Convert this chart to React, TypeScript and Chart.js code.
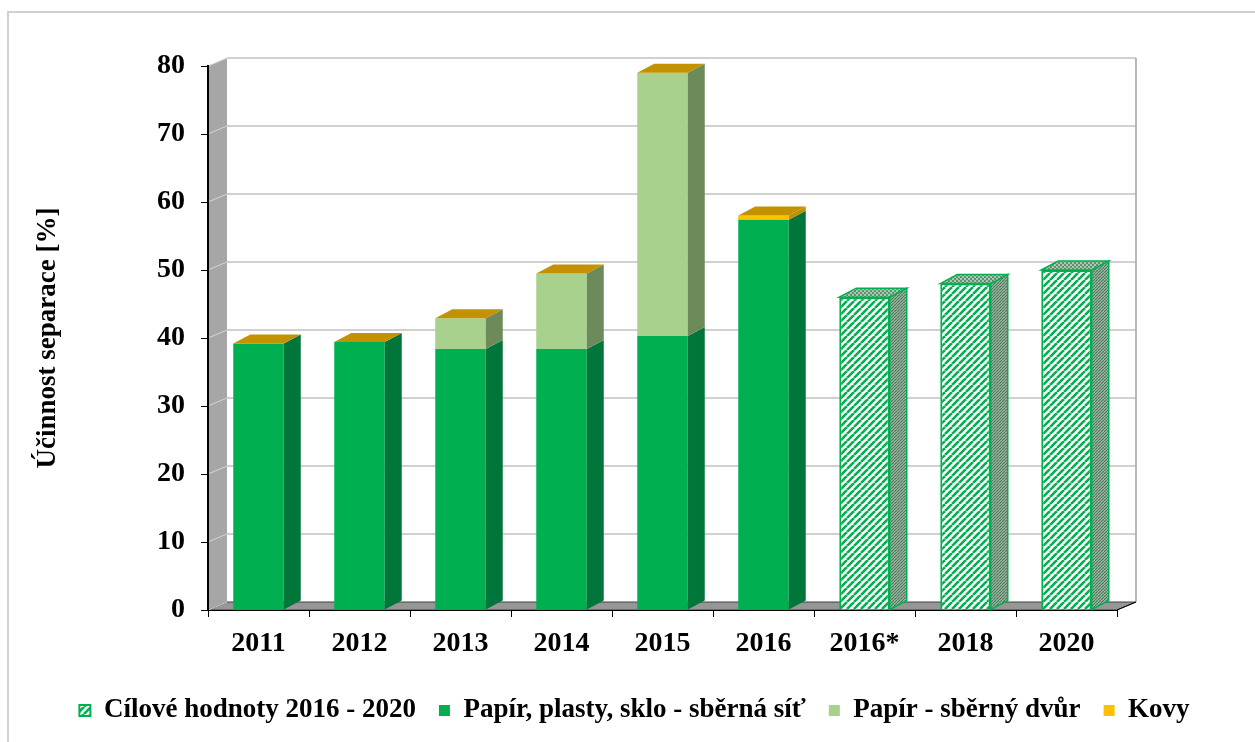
import React, { useEffect, useRef } from 'react';
import { Chart, registerables } from 'chart.js';

Chart.register(...registerables);

// ---- data ----
const categories = ['2011', '2012', '2013', '2014', '2015', '2016', '2016*', '2018', '2020'];
const cilove = [null, null, null, null, null, null, 46, 48, 50];
const sbernaSit = [39.2, 39.4, 38.4, 38.4, 40.3, 57.4, null, null, null];
const sbernyDvur = [0, 0, 4.5, 11.1, 38.7, 0, null, null, null];
const kovy = [0, 0, 0, 0, 0, 0.6, null, null, null];
const seriesNames = ['Cílové hodnoty 2016 - 2020', 'Papír, plasty, sklo - sběrná síť', 'Papír - sběrný dvůr', 'Kovy'];
const yTitle = 'Účinnost separace [%]';
const yMin = 0;
const yMax = 80;
const yStep = 10;

// ---- style ----
const FONT = "'Liberation Serif', 'Times New Roman', serif";
const WALL_DX = 19;
const WALL_DY = -8;
const BAR_DX = 17;
const BAR_DY = -9;
const GREEN = '#00B050';
const PAD_LEFT = 14;
const PLOT_LEFT = 208;
const PLOT_RIGHT = 1117;
const PLOT_BOTTOM = 610;
const PAD_BOTTOM = 8;

function makeCanvas(size: number) {
  const c = document.createElement('canvas');
  c.width = size;
  c.height = size;
  return c;
}

function hatchPattern(ctx: CanvasRenderingContext2D, size: number, bg: string, fg: string, lw: number) {
  const c = makeCanvas(size);
  const g = c.getContext('2d')!;
  g.fillStyle = bg;
  g.fillRect(0, 0, size, size);
  g.strokeStyle = fg;
  g.lineWidth = lw;
  for (const k of [-size, 0, size]) {
    g.beginPath();
    g.moveTo(k, size);
    g.lineTo(k + size, 0);
    g.stroke();
  }
  return ctx.createPattern(c, 'repeat')!;
}

function dotPattern(ctx: CanvasRenderingContext2D, bg: string, fg: string) {
  const c = makeCanvas(4);
  const g = c.getContext('2d')!;
  g.fillStyle = bg;
  g.fillRect(0, 0, 4, 4);
  g.fillStyle = fg;
  g.fillRect(0, 0, 2, 2);
  g.fillRect(2, 2, 2, 2);
  return ctx.createPattern(c, 'repeat')!;
}

function poly(ctx: CanvasRenderingContext2D, pts: number[][]) {
  ctx.beginPath();
  ctx.moveTo(pts[0][0], pts[0][1]);
  for (let i = 1; i < pts.length; i++) ctx.lineTo(pts[i][0], pts[i][1]);
  ctx.closePath();
}

export default function App() {
  const ref = useRef<HTMLCanvasElement>(null);

  useEffect(() => {
    const canvas = ref.current!;
    const ctx = canvas.getContext('2d')!;
    const frontHatch = hatchPattern(ctx, 7, '#FFFFFF', GREEN, 2.6);
    const sideHatch = hatchPattern(ctx, 3, '#B5C7B9', '#4E7A5C', 1.3);
    const topDots = dotPattern(ctx, '#A8C8B0', '#5F9070');

    const sideColors: any[] = [sideHatch, '#00763A', '#6C8A5A', '#BF9000'];
    const topColors: any[] = [topDots, '#00763A', '#8FAF78', '#C29200'];
    const strokeFaces = [true, false, false, false];

    const threeD = {
      id: 'threeD',
      beforeDraw(chart: any) {
        const c = chart.ctx as CanvasRenderingContext2D;
        const ca = chart.chartArea;
        const ys = chart.scales.y;
        c.save();
        // outer frame
        c.strokeStyle = '#D0D0D0';
        c.lineWidth = 2;
        c.strokeRect(8, 12, chart.width + 40, chart.height + 40);
        // left wall
        c.fillStyle = '#A6A6A6';
        poly(c, [[ca.left, ca.top], [ca.left + WALL_DX, ca.top + WALL_DY], [ca.left + WALL_DX, ca.bottom + WALL_DY], [ca.left, ca.bottom]]);
        c.fill();
        // floor
        c.fillStyle = '#969696';
        poly(c, [[ca.left, ca.bottom], [ca.right, ca.bottom], [ca.right + WALL_DX, ca.bottom + WALL_DY], [ca.left + WALL_DX, ca.bottom + WALL_DY]]);
        c.fill();
        c.strokeStyle = '#404040';
        c.lineWidth = 1;
        c.stroke();
        // gridlines on back wall and side wall
        for (const t of ys.ticks) {
          const y = ys.getPixelForValue(t.value);
          if (t.value !== yMin) {
            c.strokeStyle = '#C0C0C0';
            c.lineWidth = 1.6;
            c.beginPath();
            c.moveTo(ca.left + WALL_DX, y + WALL_DY);
            c.lineTo(ca.right + WALL_DX, y + WALL_DY);
            c.stroke();
          }
          c.strokeStyle = '#D6D6D6';
          c.lineWidth = 1;
          c.beginPath();
          c.moveTo(ca.left, y);
          c.lineTo(ca.left + WALL_DX, y + WALL_DY);
          c.stroke();
        }
        // back wall right edge
        c.strokeStyle = '#A6A6A6';
        c.lineWidth = 1.6;
        c.beginPath();
        c.moveTo(ca.right + WALL_DX, ys.getPixelForValue(yMax) + WALL_DY);
        c.lineTo(ca.right + WALL_DX, ca.bottom + WALL_DY);
        c.stroke();
        c.strokeStyle = '#000';
        c.lineWidth = 1;
        c.beginPath();
        c.moveTo(ca.right, ca.bottom);
        c.lineTo(ca.right + WALL_DX, ca.bottom + WALL_DY);
        c.stroke();
        c.restore();
      },
      afterDatasetsDraw(chart: any) {
        const c = chart.ctx as CanvasRenderingContext2D;
        c.save();
        const n = chart.data.labels.length;
        for (let i = 0; i < n; i++) {
          let top: any = null;
          chart.data.datasets.forEach((ds: any, di: number) => {
            const v = ds.data[i];
            const el = chart.getDatasetMeta(di).data[i];
            if (v == null || !el) return;
            const p = el.getProps(['x', 'y', 'base', 'width'], true);
            const left = p.x - p.width / 2;
            const right = p.x + p.width / 2;
            if (Math.abs(p.base - p.y) > 0.3) {
              poly(c, [[right, p.y], [right + BAR_DX, p.y + BAR_DY], [right + BAR_DX, p.base + BAR_DY], [right, p.base]]);
              c.fillStyle = sideColors[di];
              c.fill();
              if (strokeFaces[di]) {
                c.strokeStyle = GREEN;
                c.lineWidth = 1.5;
                c.stroke();
              }
            }
            top = { left, right, y: p.y, di };
          });
          if (top) {
            poly(c, [[top.left, top.y], [top.left + BAR_DX, top.y + BAR_DY], [top.right + BAR_DX, top.y + BAR_DY], [top.right, top.y]]);
            c.fillStyle = topColors[top.di];
            c.fill();
            if (strokeFaces[top.di]) {
              c.strokeStyle = GREEN;
              c.lineWidth = 1.5;
              c.stroke();
            }
          }
        }
        c.restore();
      },
    };

    const chart = new Chart(canvas, {
      type: 'bar',
      data: {
        labels: categories,
        datasets: [
          { label: seriesNames[0], data: cilove, backgroundColor: frontHatch, borderColor: GREEN, borderWidth: 2 },
          { label: seriesNames[1], data: sbernaSit, backgroundColor: GREEN, borderWidth: 0 },
          { label: seriesNames[2], data: sbernyDvur, backgroundColor: '#A9D18E', borderWidth: 0 },
          { label: seriesNames[3], data: kovy, backgroundColor: '#FFC000', borderWidth: 0 },
        ],
      },
      options: {
        responsive: false,
        devicePixelRatio: 1,
        animation: false,
        barPercentage: 0.5,
        categoryPercentage: 1.0,
        layout: { padding: { top: 66, right: 0, bottom: PAD_BOTTOM, left: PAD_LEFT } },
        plugins: {
          tooltip: { enabled: false },
          legend: {
            position: 'bottom',
            labels: {
              color: '#000',
              font: { family: FONT, size: 27, weight: 'bold' },
              boxWidth: 11,
              boxHeight: 11,
              padding: 23,
            },
          },
        },
        scales: {
          x: {
            stacked: true,
            afterFit: (scale: any) => {
              const lh = scale.chart.legend ? scale.chart.legend.height : 0;
              scale.height = scale.chart.height - PLOT_BOTTOM - lh - PAD_BOTTOM;
            },
            grid: { drawOnChartArea: false, drawTicks: true, tickLength: 7, color: '#000', offset: true },
            border: { color: '#000', width: 1 },
            ticks: { color: '#000', font: { family: FONT, size: 28, weight: 'bold' }, padding: 10, maxRotation: 0 },
          },
          y: {
            stacked: true,
            min: yMin,
            max: yMax,
            afterFit: (scale: any) => {
              scale.width = PLOT_LEFT - PAD_LEFT;
            },
            grid: { drawOnChartArea: false, drawTicks: true, tickLength: 7, color: '#000' },
            border: { color: '#000', width: 2 },
            ticks: { stepSize: yStep, color: '#000', font: { family: FONT, size: 28, weight: 'bold' }, padding: 16 },
            title: {
              display: true,
              text: yTitle,
              color: '#000',
              font: { family: FONT, size: 27, weight: 'bold' },
              padding: { top: 18, bottom: 0 },
            },
          },
          // empty spacer on the right, keeps the plot's right edge in place
          spacer: {
            type: 'linear',
            position: 'right',
            display: true,
            afterFit: (scale: any) => {
              scale.width = scale.chart.width - PLOT_RIGHT;
            },
            grid: { display: false, drawTicks: false },
            border: { display: false },
            ticks: { display: false },
          },
        },
      },
      plugins: [threeD],
    });

    return () => chart.destroy();
  }, []);

  return (
    <div style={{ position: 'absolute', left: 0, top: 0, width: 1255, height: 742, background: '#fff' }}>
      <canvas ref={ref} width={1255} height={742} />
    </div>
  );
}
